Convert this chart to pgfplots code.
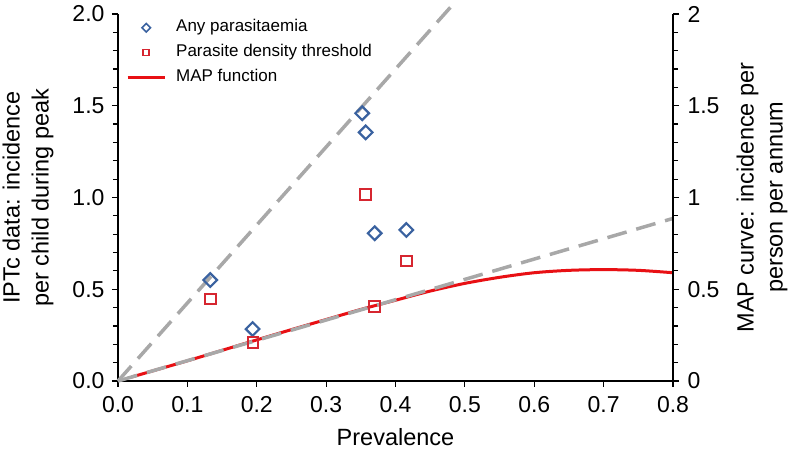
\documentclass[border=0pt]{standalone}
\usepackage{fontspec}
\setmainfont{Liberation Sans}
\usepackage{pgfplots}
\pgfplotsset{compat=1.18}
\definecolor{diamondblue}{RGB}{58,98,160}
\definecolor{sqred}{RGB}{214,38,48}
\definecolor{mapred}{RGB}{232,16,20}
\definecolor{dashgray}{RGB}{168,168,168}
\pgfplotsset{
  markleg/.style={legend image code/.code={\draw[mark repeat=2,mark phase=2,##1] plot coordinates {(0pt,0pt) (18.5pt,0pt) (37pt,0pt)};}},
  lineleg/.style={legend image code/.code={\draw[##1] (0pt,0pt) -- (37pt,0pt);}},
  base/.style={
    width=555pt, height=367pt, scale only axis,
    xmin=0, xmax=0.8, ymin=0, ymax=2,
    clip=false,
    tick align=outside,
    major tick length=6pt, minor tick length=5pt,
    every tick/.style={black, line width=1.2pt},
    axis line style={black, line width=1.6pt},
    /pgf/number format/assume math mode=true,
    tick label style={font=\fontsize{23}{27}\selectfont},
    label style={font=\fontsize{23.5}{29}\selectfont},
  }
}
\begin{document}
\begin{tikzpicture}
\begin{axis}[base,
  axis x line*=bottom, axis y line*=left,
  xtick={0,0.1,0.2,0.3,0.4,0.5,0.6,0.7,0.8},
  xticklabels={0.0,0.1,0.2,0.3,0.4,0.5,0.6,0.7,0.8},
  ytick={0,0.5,1,1.5,2},
  yticklabels={0.0,0.5,1.0,1.5,2.0},
  minor y tick num=4,
  xticklabel style={yshift=-6pt},
  yticklabel style={xshift=-4pt},
  xlabel={Prevalence},
  ylabel={IPTc data: incidence\\per child during peak},
  ylabel style={align=center, at={(axis description cs:0,0.5)}, anchor=center, yshift=90pt},
  xlabel style={at={(axis description cs:0.5,0)}, anchor=center, yshift=-56pt},
  legend style={at={(axis description cs:0.0144,0.985)}, anchor=north west,
    draw=none, fill=none, font=\fontsize{17}{20}\selectfont,
    row sep=9pt, column sep=10pt, inner sep=0pt,
    nodes={inner sep=0pt, text height=12pt, text depth=4pt}},
  legend cell align=left,
  legend image post style={mark size=3pt, every mark/.append style={line width=1.6pt}},
]
\coordinate (bl) at (rel axis cs:0,0);
\coordinate (tr) at (rel axis cs:1,1);
\addplot[only marks, mark=square, mark size=4.8pt, draw=diamondblue, markleg,
  mark options={rotate=45, line width=2.2pt, draw=diamondblue, fill=none, solid}]
  coordinates {(0.133,0.55) (0.194,0.283) (0.352,1.459) (0.357,1.355) (0.370,0.805) (0.4156,0.823)};
\addlegendentry{Any parasitaemia}
\addplot[only marks, mark=square, mark size=5.3pt, draw=sqred, markleg,
  mark options={line width=2pt, draw=sqred, fill=none, solid}]
  coordinates {(0.133,0.446) (0.1946,0.209) (0.357,1.017) (0.370,0.405) (0.416,0.654)};
\addlegendentry{Parasite density threshold}
\addplot[mapred, line width=3pt, smooth, no marks, lineleg]
  coordinates {(0.02,0.022) (0.05,0.055) (0.1,0.11) (0.15,0.167) (0.2,0.224) (0.25,0.28) (0.3,0.335) (0.35,0.39) (0.4,0.44) (0.45,0.49) (0.5,0.532) (0.55,0.565) (0.6,0.59) (0.65,0.603) (0.7,0.607) (0.75,0.603) (0.8,0.59)};
\addlegendentry{MAP function}
\addplot[forget plot, dashgray, line width=3.5pt, dash pattern=on 20pt off 10pt, no marks]
  coordinates {(0,0) (0.488,2.074)};
\addplot[forget plot, dashgray, line width=3.5pt, dash pattern=on 20pt off 10pt, no marks]
  coordinates {(0,0) (0.8,0.886)};
\end{axis}
\begin{axis}[base,
  axis x line=none, axis y line*=right,
  ytick={0,0.5,1,1.5,2},
  yticklabels={0,0.5,1,1.5,2},
  minor y tick num=4,
  yticklabel style={xshift=5pt},
  ylabel={MAP curve: incidence per\\person per annum},
  ylabel style={align=center, at={(axis description cs:1,0.5)}, anchor=center, yshift=-89pt},
]
\addplot[draw=none, forget plot] coordinates {(0,0)};
\end{axis}
\pgfresetboundingbox
\path ([shift={(-118pt,-75pt)}]bl) rectangle ([shift={(115pt,14pt)}]tr);
\end{tikzpicture}
\end{document}
